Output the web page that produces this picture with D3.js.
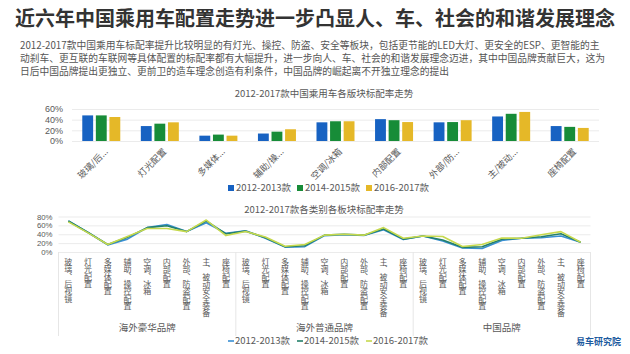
<!DOCTYPE html>
<html>
<head>
<meta charset="utf-8">
<script src="https://cdn.jsdelivr.net/npm/d3@7"></script>
<style>
  body { margin: 0; background: #fff; }
  svg { display: block; font-family: "Noto Sans CJK SC", "Noto Sans", sans-serif; }
  .ytick text { font-family: "Liberation Sans", Arial, sans-serif; }
</style>
</head>
<body>
<div id="chart"></div>
<script>
'use strict';

// ---- data ----
const titleText = '近六年中国乘用车配置走势进一步凸显人、车、社会的和谐发展理念';
const introLines = [
    '2012-2017款中国乘用车标配率提升比较明显的有灯光、操控、防盗、安全等板块，包括更节能的LED大灯、更安全的ESP、更智能的主',
    '动刹车、更互联的车联网等具体配置的标配率都有大幅提升，进一步向人、车、社会的和谐发展理念迈进，其中中国品牌贡献巨大，这为',
    '日后中国品牌提出更独立、更前卫的造车理念创造有利条件，中国品牌的崛起离不开独立理念的提出'
];
const seriesNames = ['2012-2013款', '2014-2015款', '2016-2017款'];

// top chart
const barTitle = '2012-2017款中国乘用车各版块标配率走势';
const barCats = ['玻璃/后...', '灯光配置', '多媒体...', '辅助/操...', '空调/冰箱', '内部配置', '外部/防...', '主/被动...', '座椅配置'];
const bar2012 = [48, 28, 10, 14, 35, 41, 35, 46, 28];
const bar2014 = [48, 32.5, 12, 17.5, 37, 39, 35.5, 51, 26.5];
const bar2016 = [45, 35, 10, 22, 37, 35.5, 39, 54.5, 24.5];
const barTicks = [0, 20, 40, 60];

// bottom chart
const lineTitle = '2012-2017款各类别各板块标配率走势';
const brandGroups = ['海外豪华品牌', '海外普通品牌', '中国品牌'];
const lineCats = ['玻璃、后视镜', '灯光配置', '多媒体配置', '辅助、操控配置', '空调、冰箱', '内部配置', '外部、防盗配置', '主、被动安全装备', '座椅配置'];
const line2012 = [70, 44, 16, 29, 55, 62, 46, 66, 42,
                  48, 31, 11, 12, 37, 39, 37.5, 50, 28,
                  36, 25, 9, 8, 26, 31, 32, 36, 22];
const line2014 = [70, 44, 17, 33, 55, 59, 46, 70, 41,
                  47, 32, 12, 14, 38, 40, 38, 52, 29,
                  36, 27, 10.5, 12, 29, 31, 34.5, 41, 22];
const line2016 = [68, 43, 17, 35, 53, 53, 46, 72, 37,
                  46, 34, 13, 17, 38, 40, 38, 55, 31,
                  36, 35, 12.5, 17, 31.5, 31, 39, 46, 22];
const lineTicks = [0, 20, 40, 60, 80];

// ---- setup ----
const W = 630, H = 354;
const barColors = ['#1762c2', '#178c38', '#e5b828'];
const lineColors = ['#3a8fd3', '#23806a', '#c6d94e'];
const gridColor = '#ebebeb';
const textColor = '#595959';

const svg = d3.select('#chart').append('svg')
    .attr('width', W)
    .attr('height', H);

// title + intro
svg.append('text')
    .attr('x', 15).attr('y', 26)
    .attr('font-size', 20).attr('font-weight', 'bold')
    .attr('fill', '#333')
    .text(titleText);

svg.append('g').selectAll('text')
    .data(introLines)
    .join('text')
    .attr('x', 20)
    .attr('y', (d, i) => 49 + i * 13)
    .attr('font-size', 9.75)
    .attr('fill', '#555')
    .text(d => d);

// ---- bar chart ----
const barData = barCats.map((c, i) => ({cat: c, vals: [bar2012[i], bar2014[i], bar2016[i]]}));

const x0 = d3.scaleBand().domain(barCats).range([72, 599]);
const x1 = d3.scaleBand().domain(seriesNames).range([0, 38]).paddingInner(0.2);
const yBar = d3.scaleLinear().domain([0, 60]).range([141, 109]);

svg.append('text')
    .attr('x', 324).attr('y', 97)
    .attr('text-anchor', 'middle')
    .attr('font-size', 9.5).attr('fill', textColor)
    .text(barTitle);

const barG = svg.append('g');

barG.append('g')
    .attr('class', 'ytick')
    .attr('transform', 'translate(72,0)')
    .call(d3.axisLeft(yBar).tickValues(barTicks).tickSize(-527).tickFormat(d => d + '%'))
    .call(g => g.select('.domain').remove())
    .call(g => g.selectAll('line').attr('stroke', gridColor))
    .call(g => g.selectAll('text').attr('x', -9).attr('fill', textColor).attr('font-size', 9));

barG.selectAll('.grp')
    .data(barData)
    .join('g')
    .attr('class', 'grp')
    .attr('transform', d => `translate(${x0(d.cat) + x0.bandwidth() / 2 - 19},0)`)
    .selectAll('rect')
    .data(d => d.vals.map((v, i) => ({key: seriesNames[i], v: v, i: i})))
    .join('rect')
    .attr('x', d => x1(d.key))
    .attr('width', x1.bandwidth())
    .attr('y', d => yBar(d.v))
    .attr('height', d => yBar(0) - yBar(d.v))
    .attr('fill', d => barColors[d.i]);

barG.selectAll('.cat')
    .data(barCats)
    .join('text')
    .attr('class', 'cat')
    .attr('transform', d => `translate(${x0(d) + x0.bandwidth() / 2 + 5},150) rotate(-45)`)
    .attr('text-anchor', 'end')
    .attr('dy', '0.35em')
    .attr('font-size', 9)
    .attr('fill', textColor)
    .text(d => d);

// bar legend
const barLeg = svg.append('g').selectAll('g')
    .data(seriesNames)
    .join('g')
    .attr('transform', (d, i) => `translate(${228 + i * 69},188)`);
barLeg.append('rect')
    .attr('x', 0).attr('y', -3).attr('width', 6).attr('height', 6)
    .attr('fill', (d, i) => barColors[i]);
barLeg.append('text')
    .attr('x', 8).attr('dy', '0.35em')
    .attr('font-size', 9.5).attr('fill', textColor)
    .text(d => d);

// ---- line chart ----
const xLine = d3.scaleBand().domain(d3.range(27)).range([58.5, 590.5]);
const yLine = d3.scaleLinear().domain([0, 80]).range([252, 216.5]);
const px = i => xLine(i) + xLine.bandwidth() / 2;

svg.append('text')
    .attr('x', 324).attr('y', 212.5)
    .attr('text-anchor', 'middle')
    .attr('font-size', 9.5).attr('fill', textColor)
    .text(lineTitle);

const lineG = svg.append('g');

lineG.append('g')
    .attr('class', 'ytick')
    .attr('transform', 'translate(58.5,0)')
    .call(d3.axisLeft(yLine).tickValues(lineTicks).tickSize(-532).tickFormat(d => d + '%'))
    .call(g => g.select('.domain').remove())
    .call(g => g.selectAll('line').attr('stroke', gridColor))
    .call(g => g.selectAll('text').attr('x', -6).attr('fill', textColor).attr('font-size', 7.8));

// group separators
const groupEdges = d3.range(4).map(k => xLine.range()[0] + k * 9 * xLine.step());
lineG.selectAll('.sep')
    .data(groupEdges)
    .join('line')
    .attr('class', 'sep')
    .attr('x1', d => d).attr('x2', d => d)
    .attr('y1', 252).attr('y2', 336)
    .attr('stroke', '#e6e6e6');

const lineMaker = d3.line()
    .x((d, i) => px(i))
    .y(d => yLine(d));

lineG.selectAll('.series')
    .data([line2012, line2014, line2016])
    .join('path')
    .attr('class', 'series')
    .attr('d', d => lineMaker(d))
    .attr('fill', 'none')
    .attr('stroke', (d, i) => lineColors[i])
    .attr('stroke-width', 1.6)
    .attr('stroke-linejoin', 'round');

// vertical category labels (one text each, vertical writing mode)
const allCats = d3.range(27).map(i => lineCats[i % 9]);
lineG.selectAll('.vcat')
    .data(allCats)
    .join('text')
    .attr('class', 'vcat')
    .attr('x', (d, i) => px(i))
    .attr('y', 258)
    .style('writing-mode', 'vertical-rl')
    .style('text-orientation', 'upright')
    .style('letter-spacing', '-0.7px')
    .attr('font-size', 8)
    .attr('fill', textColor)
    .text(d => d);

lineG.selectAll('.brand')
    .data(brandGroups)
    .join('text')
    .attr('class', 'brand')
    .attr('x', (d, k) => (groupEdges[k] + groupEdges[k + 1]) / 2)
    .attr('y', 331)
    .attr('text-anchor', 'middle')
    .attr('font-size', 9.5)
    .attr('fill', textColor)
    .text(d => d);

// line legend
const lineLeg = svg.append('g').selectAll('g')
    .data(seriesNames)
    .join('g')
    .attr('transform', (d, i) => `translate(${228 + i * 69},341)`);
lineLeg.append('line')
    .attr('x1', 0).attr('x2', 6).attr('y1', 0).attr('y2', 0)
    .attr('stroke', (d, i) => lineColors[i]).attr('stroke-width', 1.6);
lineLeg.append('text')
    .attr('x', 7).attr('dy', '0.35em')
    .attr('font-size', 9.5).attr('fill', textColor)
    .text(d => d);

// logo
svg.append('text')
    .attr('x', 621).attr('y', 344.5)
    .attr('text-anchor', 'end')
    .attr('font-size', 9).attr('font-weight', 'bold')
    .attr('fill', '#1d5a9e')
    .text('易车研究院');
</script>
</body>
</html>
